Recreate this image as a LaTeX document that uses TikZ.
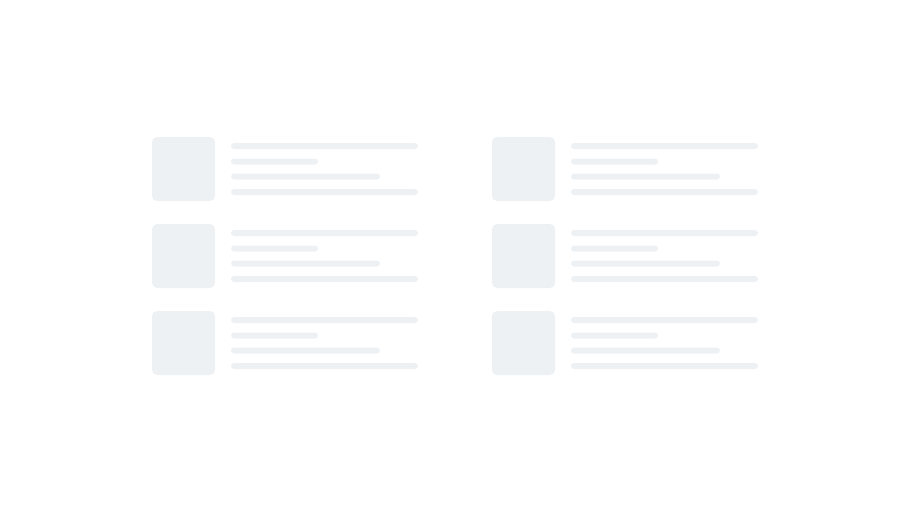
\documentclass[tikz,border=0pt]{standalone}
\definecolor{skel}{RGB}{238,241,244}
\tikzset{
  avatar/.style={fill=skel, rounded corners=5pt},
  bar/.style={fill=skel, rounded corners=3pt}
}
\begin{document}
\begin{tikzpicture}[x=1pt,y=-1pt]
\useasboundingbox (0,0) rectangle (910,512);
\foreach \cx in {0,340}{
  \foreach \ry in {0,87}{
  }
}
\foreach \cx in {0,340}{
  \foreach \ry in {0,87,174}{
    \begin{scope}[shift={(\cx,\ry)}]
      \path[avatar] (152,137) rectangle (215,201);
      \path[bar] (231,143) rectangle (418,149);
      \path[bar] (231,158.5) rectangle (318,164.5);
      \path[bar] (231,173.5) rectangle (380,179.5);
      \path[bar] (231,189) rectangle (418,195);
    \end{scope}
  }
}
\end{tikzpicture}
\end{document}
